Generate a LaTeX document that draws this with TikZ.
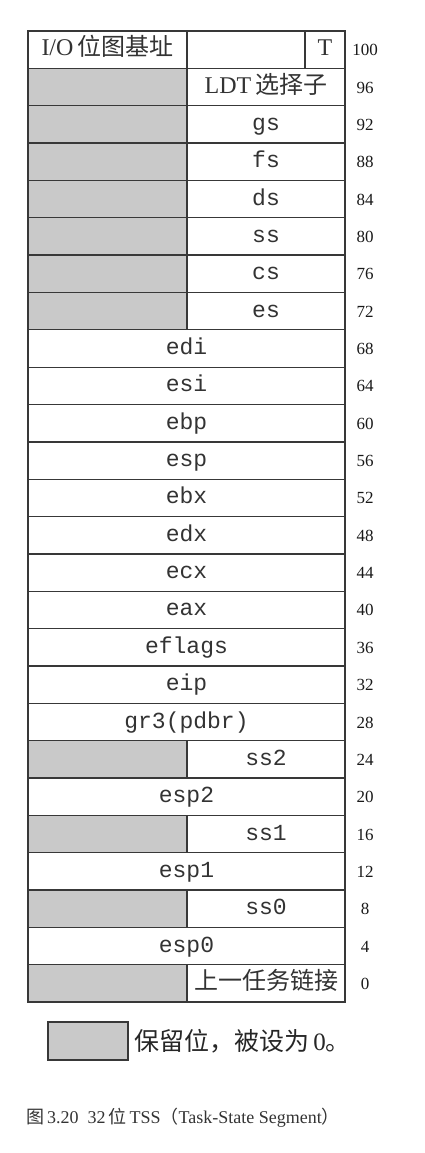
\documentclass[tikz,border=0pt]{standalone}
\usepackage{fontspec}
\setmainfont{Liberation Serif}
\setmonofont{Liberation Mono}
\newfontfamily\cjk{Noto Sans CJK SC}
\begin{document}
\begin{tikzpicture}[x=1pt,y=-1pt,
  grid/.style={draw=black!78,line width=1.3pt},
  txt/.style={text height=16pt,text depth=4pt},
  cellfull/.style={grid,txt,fill=white,minimum width=317pt,minimum height=37.35pt,inner sep=0pt,
    text=black!80,font=\fontsize{23}{23}\selectfont\ttfamily},
  cellright/.style={grid,txt,fill=white,minimum width=158pt,minimum height=37.35pt,inner sep=0pt,
    text=black!80,font=\fontsize{23}{23}\selectfont\ttfamily},
  cellres/.style={grid,fill=black!21,minimum width=159pt,minimum height=37.35pt,inner sep=0pt},
  offset/.style={font=\fontsize{17}{17}\selectfont,text=black!90,text height=12pt,text depth=0pt}]
\useasboundingbox (0,0) rectangle (424,1153);

% top row: I/O map base, empty field and the T flag
\node[cellfull,minimum width=159pt,font=\fontsize{24}{24}\selectfont] (iomap) at (107.5,49.7)
  {I/O\,{\cjk 位图基址}};
\node[cellright,minimum width=118pt] (blank) at (246,49.7) {};
\node[cellright,minimum width=40pt,font=\fontsize{24}{24}\selectfont] (tflag) at (325,49.7) {T};
\node[offset] (n100) at (365,49.7) {100};

% split rows: reserved high half, selector in the low half
\foreach \i/\n/\txt in {1/96/{\rmfamily\fontsize{24}{24}\selectfont LDT\,{\cjk 选择子}},2/92/gs,3/88/fs,4/84/ds,5/80/ss,6/76/cs,7/72/es,
    19/24/ss2,21/16/ss1,23/8/ss0,25/0/{\cjk\fontsize{24}{24}\selectfont 上一任务链接}}{
  \pgfmathsetmacro\yc{49.7+\i*37.35}
  \node[cellres] (res\n) at (107.5,\yc) {};
  \node[cellright] (reg\n) at (266,\yc) {\txt};
  \node[offset] (n\n) at (365,\yc) {\n};
}

% full-width 32-bit fields
\foreach \i/\n/\txt in {8/68/edi,9/64/esi,10/60/ebp,11/56/esp,12/52/ebx,13/48/edx,14/44/ecx,
    15/40/eax,16/36/eflags,17/32/eip,18/28/gr3(pdbr),20/20/esp2,22/12/esp1,24/4/esp0}{
  \pgfmathsetmacro\yc{49.7+\i*37.35}
  \node[cellfull] (reg\n) at (186.5,\yc) {\txt};
  \node[offset] (n\n) at (365,\yc) {\n};
}

% legend
\node[grid,fill=black!21,minimum width=80pt,minimum height=38pt,inner sep=0pt] (legbox) at (88,1041) {};
\node[anchor=west,inner sep=0pt,font=\fontsize{25}{25}\selectfont,text=black!85] (legtext) at (134,1041)
  {{\cjk 保留位，被设为}\,0{\cjk 。}};

% caption
\node[anchor=west,inner sep=0pt,font=\fontsize{18}{18}\selectfont,text=black!80] (caption) at (26,1118)
  {{\cjk 图}\,3.20\ \ 32\,{\cjk 位}\,TSS{\cjk （}Task-State Segment{\cjk ）}};
\end{tikzpicture}
\end{document}
